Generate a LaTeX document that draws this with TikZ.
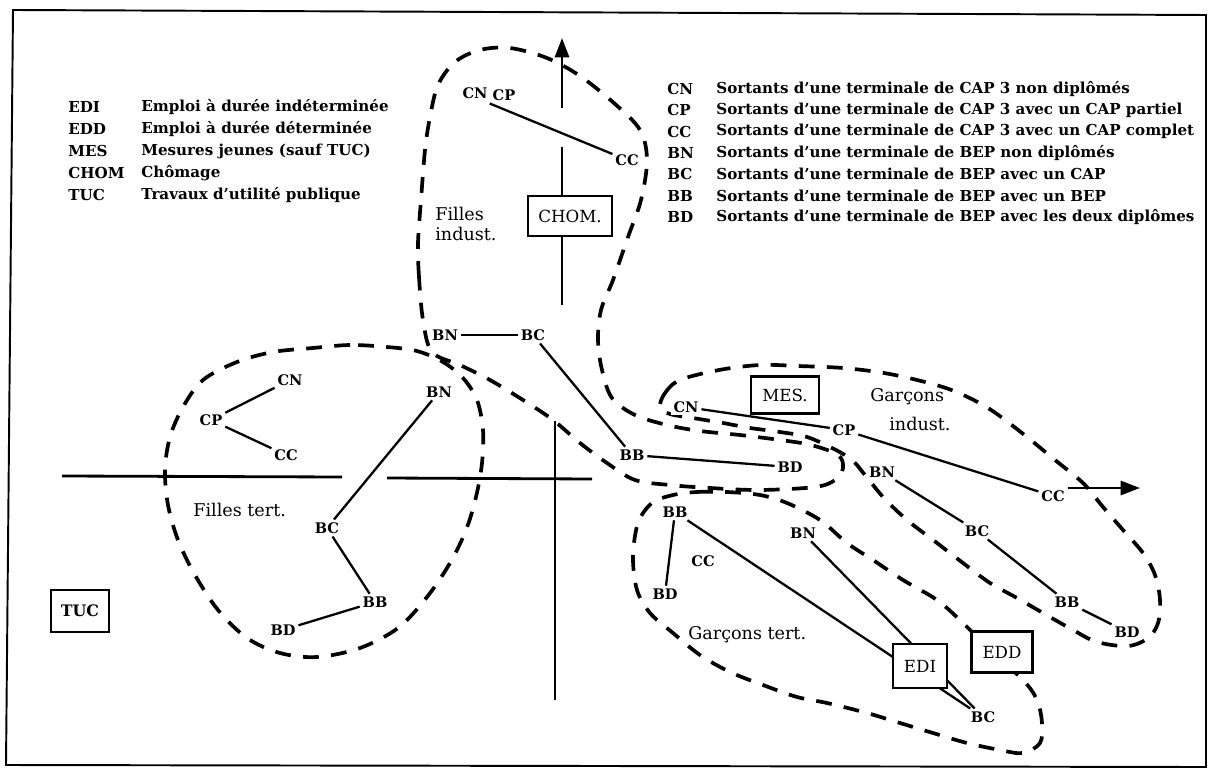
\documentclass[tikz,border=0pt]{standalone}
\usepackage{fontspec}
\setmainfont{DejaVu Serif}
\usetikzlibrary{arrows.meta}
\begin{document}
\begin{tikzpicture}[x=0.02cm,y=-0.02cm,
  lab/.style={font=\bfseries\fontsize{8.3}{9}\selectfont, inner sep=1.5pt, fill=white},
  grp/.style={font=\fontsize{10}{11.5}\selectfont, inner sep=0pt, anchor=west},
  box/.style={draw, line width=1.4pt, fill=white, font=\fontsize{9.5}{10}\selectfont, inner sep=0pt},
  link/.style={line width=1.3pt},
  grploop/.style={line width=2.1pt, dash pattern=on 9pt off 7pt},
  axis/.style={line width=1.6pt},
  legab/.style={font=\bfseries\fontsize{8.6}{10}\selectfont, anchor=west, inner sep=0pt},
  legtx/.style={font=\bfseries\fontsize{8.6}{10}\selectfont, anchor=west, inner sep=0pt},
  tip/.style={-{Triangle[length=11pt,width=8pt]}}
]
\useasboundingbox (0,0) rectangle (1212,773);
% frame
\draw[line width=1.1pt] (13,10) -- (1206,15) -- (1206,767) -- (6,765) -- cycle;

% ---- legends
\foreach \ab/\tx [count=\i] in {EDI/Emploi à durée indéterminée, EDD/Emploi à durée déterminée, MES/Mesures jeunes (sauf TUC), CHOM/Chômage, TUC/Travaux d'utilité publique}{
  \node[legab] (la\i) at (68,{85+22*\i}) {\ab};
  \node[legtx] (lt\i) at (141,{85+22*\i}) {\tx};
}
\foreach \ab/\tx [count=\i] in {CN/Sortants d'une terminale de CAP 3 non diplômés, CP/Sortants d'une terminale de CAP 3 avec un CAP partiel, CC/Sortants d'une terminale de CAP 3 avec un CAP complet, BN/Sortants d'une terminale de BEP non diplômés, BC/Sortants d'une terminale de BEP avec un CAP, BB/Sortants d'une terminale de BEP avec un BEP, BD/Sortants d'une terminale de BEP avec les deux diplômes}{
  \node[legab] (ra\i) at (667,{67.7+21.3*\i}) {\ab};
  \node[legtx] (rt\i) at (716,{67.7+21.3*\i}) {\tx};
}

% ---- dashed group loops
\draw[grploop] plot[smooth cycle, tension=0.55] coordinates {(423,320) (419,277) (418,243) (421,200) (425,150) (430,117) (438,85) (455,62) (480,50) (510,48) (547,58) (580,76) (615,104) (640,130) (647,160) (641,200) (628,237) (613,280) (601,310) (598,340) (602,370) (612,398) (635,415) (667,425) (700,431) (740,435) (780,440) (811,445) (838,455) (843,468) (835,480) (815,487) (760,490) (710,488) (670,485) (635,480) (607,463) (580,443) (553,420) (523,400) (490,380) (460,365) (432,352)};
\draw[grploop] plot[smooth cycle, tension=0.55] coordinates {(387,347) (350,345) (313,348) (273,352) (237,362) (203,380) (183,407) (170,437) (165,470) (168,505) (178,540) (195,575) (218,610) (247,638) (280,653) (317,657) (360,648) (398,628) (427,597) (450,563) (466,530) (476,497) (482,463) (483,430) (477,400) (463,378) (443,362) (417,351)};
\draw[grploop] plot[smooth cycle, tension=0.55] coordinates {(660,407) (665,393) (680,380) (719,370) (760,365) (798,366) (843,368) (884,373) (921,381) (954,391) (988,408) (1022,433) (1055,460) (1083,483) (1103,507) (1123,530) (1143,553) (1155,575) (1160,600) (1158,623) (1148,638) (1128,646) (1097,642) (1073,630) (1043,613) (1017,598) (990,583) (963,563) (937,543) (907,520) (883,497) (865,475) (848,457) (810,438) (780,432) (750,428) (723,423) (693,418) (670,414)};
\draw[grploop] plot[smooth cycle, tension=0.55] coordinates {(673,495) (697,492) (727,492) (760,495) (787,503) (820,520) (847,543) (873,560) (903,580) (937,600) (963,623) (990,650) (1023,680) (1037,700) (1042,723) (1040,743) (1023,753) (1000,750) (967,743) (933,733) (900,723) (867,713) (827,703) (797,697) (763,685) (730,672) (700,655) (673,633) (650,613) (637,590) (633,557) (638,523) (652,503)};

% ---- axes
\coordinate (vTop) at (562,38);
\coordinate (v1) at (562,108);
\coordinate (v2) at (562,147);
\coordinate (v3) at (562,305);
\coordinate (w1) at (555,421);
\coordinate (w2) at (555,700);
\coordinate (h1) at (62,476);
\coordinate (h2) at (342,477);
\coordinate (h3) at (387,478);
\coordinate (h4) at (592,479);
\coordinate (hEnd) at (1140,488);

\node[box, minimum width=1.68cm, minimum height=0.8cm] (chom) at (570,216) {CHOM.};
\draw[axis, tip] (v1) -- (vTop);
\draw[axis] (v2) -- (chom.north -| v2);
\draw[axis] (chom.south -| v3) -- (v3);
\draw[axis] (w1) -- (w2);
\draw[axis] (h1) -- (h2);
\draw[axis] (h3) -- (h4);

% ---- labels: Filles indust.
\node[lab] (fiCN) at (475,93) {CN};
\node[lab] (fiCP) at (504,95) {CP};
\node[lab] (fiCC) at (627,160) {CC};
\node[lab] (fiBN) at (445,335) {BN};
\node[lab] (fiBC) at (533,335) {BC};
\node[lab] (fiBB) at (632,455) {BB};
\node[lab] (fiBD) at (790,467) {BD};
% Filles tert.
\node[lab] (ftCN) at (290,380) {CN};
\node[lab] (ftCP) at (211,420) {CP};
\node[lab] (ftCC) at (286,455) {CC};
\node[lab] (ftBN) at (439,392) {BN};
\node[lab] (ftBC) at (327,528) {BC};
\node[lab] (ftBB) at (375,602) {BB};
\node[lab] (ftBD) at (283,630) {BD};
% Garcons indust.
\node[lab] (giCN) at (686,407) {CN};
\node[lab] (giCP) at (844,430) {CP};
\node[lab] (giCC) at (1053,496) {CC};
\node[lab] (giBN) at (882,472) {BN};
\node[lab] (giBC) at (977,531) {BC};
\node[lab] (giBB) at (1067,602) {BB};
\node[lab] (giBD) at (1127,632) {BD};
% Garcons tert.
\node[lab] (gtBB) at (675,512) {BB};
\node[lab] (gtCC) at (703,561) {CC};
\node[lab] (gtBD) at (665,594) {BD};
\node[lab] (gtBN) at (803,533) {BN};
\node[lab] (gtBC) at (983,717) {BC};

% ---- links
\draw[link] (fiCP.south west) -- (fiCC);
\draw[link] (fiBN) -- (fiBC);
\draw[link] (fiBC) -- (fiBB);
\draw[link] (fiBB) -- (fiBD);
\draw[link] (ftCN) -- (ftCP);
\draw[link] (ftCP) -- (ftCC);
\draw[link] (ftBN) -- (ftBC);
\draw[link] (ftBC) -- (ftBB);
\draw[link] (ftBB) -- (ftBD);
\draw[link] (giCN) -- (giCP);
\draw[link] (giCP) -- (giCC);
\draw[link] (giBN) -- (giBC);
\draw[link] (giBC) -- (giBB);
\draw[link] (giBB) -- (giBD);
\draw[link] (gtBB) -- (gtBD);
\draw[link] (gtBB) -- (gtBC);
\draw[link] (gtBN) -- (gtBC);
\draw[axis, tip] (giCC.east |- hEnd) -- (hEnd);

% ---- boxes
\node[box, minimum width=1.36cm, minimum height=0.74cm] (mes) at (785,395) {MES.};
\node[box, minimum width=1.08cm, minimum height=0.88cm] (edi) at (920,666) {EDI};
\node[box, minimum width=1.22cm, minimum height=0.82cm] (edd) at (1002,652) {EDD};
\node[box, minimum width=1.16cm, minimum height=0.84cm, font=\bfseries\fontsize{9}{10}\selectfont] (tuc) at (80,611) {TUC};

% ---- group names
\node[grp, align=left] (gFI) at (435,224) {Filles\\indust.};
\node[grp] (gFT) at (193,510) {Filles tert.};
\node[grp] (gGI1) at (870,397) {Garçons};
\node[grp] (gGI2) at (889,424) {indust.};
\node[grp] (gGT) at (688,635) {Garçons tert.};
\end{tikzpicture}
\end{document}
